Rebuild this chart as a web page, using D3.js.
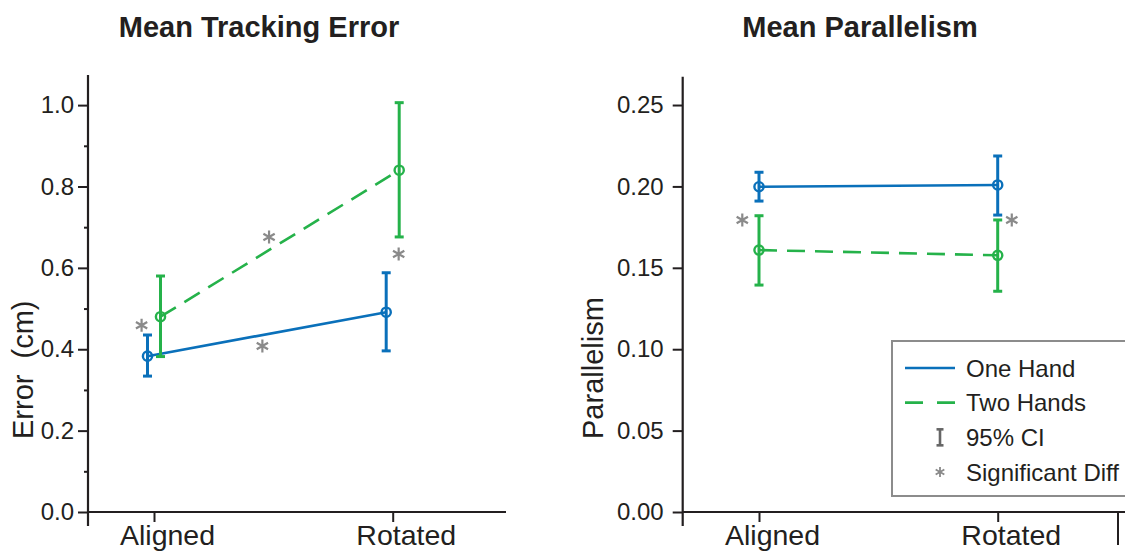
<!DOCTYPE html>
<html>
<head>
<meta charset="utf-8">
<script src="https://cdn.jsdelivr.net/npm/d3@7"></script>
<style>
  body { margin: 0; background: #fff; }
  svg { display: block; font-family: "Liberation Sans", Arial, sans-serif; }
  .axis text { fill: #231f20; }
</style>
</head>
<body>
<svg width="1125" height="552"></svg>
<script>
"use strict";
// data
const categories = ["Aligned", "Rotated"];

const errorOneMean = [0.383, 0.491];
const errorOneLo = [0.334, 0.396];
const errorOneHi = [0.435, 0.588];
const errorTwoMean = [0.480, 0.840];
const errorTwoLo = [0.382, 0.676];
const errorTwoHi = [0.580, 1.006];
// significance stars: position along category axis, value
const errorStars = [[-0.052, 0.459], [0.454, 0.408], [0.482, 0.676], [1.025, 0.634]];

const parOneMean = [0.1998, 0.2009];
const parOneLo = [0.1910, 0.1824];
const parOneHi = [0.2087, 0.2187];
const parTwoMean = [0.1609, 0.1577];
const parTwoLo = [0.1394, 0.1356];
const parTwoHi = [0.1820, 0.1794];
const parStars = [[-0.07, 0.1794], [1.059, 0.1794]];

const errorTicks = [0, 0.2, 0.4, 0.6, 0.8, 1.0];
const errorMinor = [0.1, 0.3, 0.5, 0.7, 0.9];
const parTicks = [0, 0.05, 0.10, 0.15, 0.20, 0.25];

const legendItems = ["One Hand", "Two Hands", "95% CI", "Significant Diff"];

const BLUE = "#0a70ba";
const GREEN = "#25b24a";
const STAR = "#8a8a8a";
const INK = "#231f20";

const svg = d3.select("svg");

function panel(opts) {
    const g = svg.append("g");
    const y = d3.scaleLinear().domain(opts.yDomain).range([512, opts.yTop]);
    const x = d3.scaleLinear().domain([0, 1]).range(opts.xRange);

    // axes
    const yAxis = g.append("g")
        .attr("class", "axis")
        .attr("transform", `translate(${opts.axisX},0)`)
        .call(d3.axisLeft(y).tickValues(opts.ticks).tickSize(10)
            .tickPadding(opts.pad).tickFormat(opts.fmt));
    yAxis.select(".domain").remove();
    yAxis.selectAll("text").style("font-size", "24px");
    if (opts.minor) {
        const m = g.append("g")
            .attr("transform", `translate(${opts.axisX},0)`)
            .call(d3.axisLeft(y).tickValues(opts.minor).tickSize(4).tickFormat(""));
        m.select(".domain").remove();
        m.selectAll("line").attr("stroke", INK).attr("stroke-width", 2);
    }
    const xAxis = g.append("g")
        .attr("class", "axis")
        .attr("transform", "translate(0,512)")
        .call(d3.axisBottom(x).tickValues([0, 1]).tickSize(10)
            .tickPadding(3).tickFormat(i => categories[i]));
    xAxis.select(".domain").remove();
    xAxis.selectAll("text")
        .style("font-size", "28.5px")
        .attr("dy", "0.71em")
        .attr("dx", 13);
    g.selectAll(".axis line").attr("stroke", INK).attr("stroke-width", 2);

    g.append("line")
        .attr("x1", opts.axisX).attr("x2", opts.axisX)
        .attr("y1", y(opts.yDomain[1])).attr("y2", 526)
        .attr("stroke", INK).attr("stroke-width", 2.2);
    g.append("line")
        .attr("x1", opts.axisX).attr("x2", opts.xEnd)
        .attr("y1", 512).attr("y2", 512)
        .attr("stroke", INK).attr("stroke-width", 2.2);

    // titles
    g.append("text")
        .attr("x", opts.titleX).attr("y", 37)
        .attr("text-anchor", "middle")
        .style("font-size", "29px").style("font-weight", "bold")
        .attr("fill", INK)
        .text(opts.title);
    g.append("text")
        .attr("transform", `translate(${opts.labelX},439) rotate(-90)`)
        .attr("text-anchor", "start")
        .style("font-size", "29px")
        .attr("fill", INK)
        .text(opts.label);

    // series
    opts.series.forEach(s => {
        const pts = categories.map((c, i) => ({
            x: x(i) + s.dodge, m: s.mean[i], lo: s.lo[i], hi: s.hi[i]
        }));
        g.append("path")
            .datum(pts)
            .attr("fill", "none")
            .attr("stroke", s.color)
            .attr("stroke-width", 2.6)
            .attr("stroke-dasharray", s.dash)
            .attr("d", d3.line().x(d => d.x).y(d => y(d.m)));
        const eb = g.append("g").selectAll("g").data(pts).enter().append("g");
        eb.append("line")
            .attr("x1", d => d.x).attr("x2", d => d.x)
            .attr("y1", d => y(d.lo)).attr("y2", d => y(d.hi))
            .attr("stroke", s.color).attr("stroke-width", 3);
        eb.selectAll(".cap").data(d => [[d.x, d.lo], [d.x, d.hi]]).enter()
            .append("line")
            .attr("x1", d => d[0] - 4.5).attr("x2", d => d[0] + 4.5)
            .attr("y1", d => y(d[1])).attr("y2", d => y(d[1]))
            .attr("stroke", s.color).attr("stroke-width", 3);
        eb.append("circle")
            .attr("cx", d => d.x).attr("cy", d => y(d.m))
            .attr("r", 4.6)
            .attr("fill", "none")
            .attr("stroke", s.color).attr("stroke-width", 2.4);
    });

    // significance stars
    g.selectAll(".star").data(opts.stars).enter()
        .append("path")
        .attr("transform", d => `translate(${x(d[0])},${y(d[1])})`)
        .attr("d", d3.symbol(d3.symbolAsterisk, 120))
        .attr("fill", "none")
        .attr("stroke", STAR).attr("stroke-width", 2.2);
    return g;
}

panel({
    yDomain: [0, 1.074], yTop: 75, xRange: [154, 392.7], axisX: 88, xEnd: 506,
    ticks: errorTicks, minor: errorMinor, pad: 4, fmt: d3.format(".1f"),
    title: "Mean Tracking Error", titleX: 259, label: "Error\u00a0\u00a0(cm)", labelX: 33,
    series: [
        {mean: errorOneMean, lo: errorOneLo, hi: errorOneHi, color: BLUE, dash: null, dodge: -6.5},
        {mean: errorTwoMean, lo: errorTwoLo, hi: errorTwoHi, color: GREEN, dash: "18,10", dodge: 6.5}
    ],
    stars: errorStars
});

panel({
    yDomain: [0, 0.2674], yTop: 76.7, xRange: [759, 997.7], axisX: 682.7, xEnd: 1125,
    ticks: parTicks, minor: null, pad: 9, fmt: d3.format(".2f"),
    title: "Mean Parallelism", titleX: 860, label: "Parallelism", labelX: 603,
    series: [
        {mean: parOneMean, lo: parOneLo, hi: parOneHi, color: BLUE, dash: null, dodge: 0},
        {mean: parTwoMean, lo: parTwoLo, hi: parTwoHi, color: GREEN, dash: "18,10", dodge: 0}
    ],
    stars: parStars
});

// stray right-hand tick of the second panel
svg.append("line")
    .attr("x1", 1118).attr("x2", 1118).attr("y1", 512).attr("y2", 545)
    .attr("stroke", INK).attr("stroke-width", 2);

// legend
const legend = svg.append("g").attr("transform", "translate(892,341)");
legend.append("rect")
    .attr("width", 260).attr("height", 155)
    .attr("fill", "#fff")
    .attr("stroke", "#8c8c8c").attr("stroke-width", 2);
const rowY = d3.scaleLinear().domain([0, 3]).range([27, 131]);
legend.selectAll(".lt").data(legendItems).enter()
    .append("text")
    .attr("x", 74).attr("y", (d, i) => rowY(i) + 8.5)
    .style("font-size", "24px").attr("fill", INK)
    .text(d => d);
legend.append("line")
    .attr("x1", 13).attr("x2", 63).attr("y1", rowY(0)).attr("y2", rowY(0))
    .attr("stroke", BLUE).attr("stroke-width", 2.6);
legend.append("line")
    .attr("x1", 13).attr("x2", 63).attr("y1", rowY(1)).attr("y2", rowY(1))
    .attr("stroke", GREEN).attr("stroke-width", 2.6).attr("stroke-dasharray", "18,14");
const ci = legend.append("g").attr("stroke", "#666").attr("stroke-width", 2.6);
ci.append("line").attr("x1", 48).attr("x2", 48).attr("y1", rowY(2) - 8).attr("y2", rowY(2) + 8);
ci.append("line").attr("x1", 44.5).attr("x2", 51.5).attr("y1", rowY(2) - 8).attr("y2", rowY(2) - 8);
ci.append("line").attr("x1", 44.5).attr("x2", 51.5).attr("y1", rowY(2) + 8).attr("y2", rowY(2) + 8);
legend.append("path")
    .attr("transform", `translate(48,${rowY(3)})`)
    .attr("d", d3.symbol(d3.symbolAsterisk, 70))
    .attr("fill", "none")
    .attr("stroke", STAR).attr("stroke-width", 1.8);
</script>
</body>
</html>
